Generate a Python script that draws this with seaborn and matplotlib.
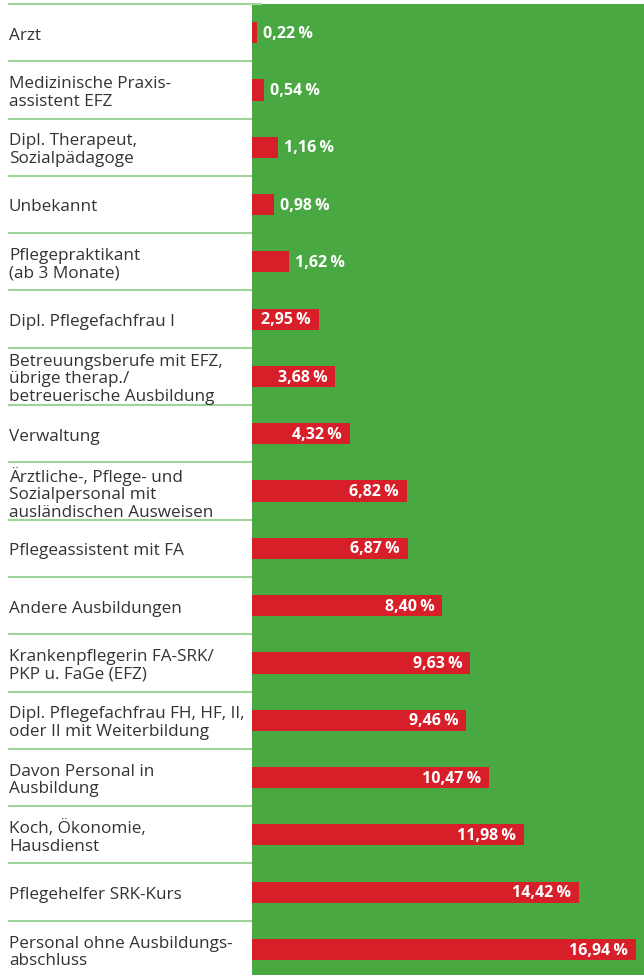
import matplotlib
matplotlib.use("Agg")
import matplotlib.pyplot as plt
import seaborn as sns
import pandas as pd

categories = [
    "Arzt",
    "Medizinische Praxis-\nassistent EFZ",
    "Dipl. Therapeut,\nSozialpädagoge",
    "Unbekannt",
    "Pflegepraktikant\n(ab 3 Monate)",
    "Dipl. Pflegefachfrau I",
    "Betreuungsberufe mit EFZ,\nübrige therap./\nbetreuerische Ausbildung",
    "Verwaltung",
    "Ärztliche-, Pflege- und\nSozialpersonal mit\nausländischen Ausweisen",
    "Pflegeassistent mit FA",
    "Andere Ausbildungen",
    "Krankenpflegerin FA-SRK/\nPKP u. FaGe (EFZ)",
    "Dipl. Pflegefachfrau FH, HF, II,\noder II mit Weiterbildung",
    "Davon Personal in\nAusbildung",
    "Koch, Ökonomie,\nHausdienst",
    "Pflegehelfer SRK-Kurs",
    "Personal ohne Ausbildungs-\nabschluss",
]
values = [0.22, 0.54, 1.16, 0.98, 1.62, 2.95, 3.68, 4.32, 6.82, 6.87,
          8.40, 9.63, 9.46, 10.47, 11.98, 14.42, 16.94]

GREEN = "#4aa843"
RED = "#d71f2a"
LINE = "#9dd49a"
TEXT = "#333333"

sns.set_theme(style="white")
plt.rcParams["font.family"] = ["Open Sans", "DejaVu Sans"]

W, H = 644, 975
fig = plt.figure(figsize=(W / 100, H / 100), dpi=100)
left_px, top_px = 252, 4
ax = fig.add_axes([left_px / W, 0, 1 - left_px / W, 1 - top_px / H])
ax.set_facecolor(GREEN)

df = pd.DataFrame({"cat": categories, "val": values})
sns.barplot(data=df, x="val", y="cat", color=RED, saturation=1, width=0.37, ax=ax)
for p in ax.patches:
    p.set_edgecolor("none")

row_px = 57.3
px_per_unit = 22.67
ax.set_xlim(0, (W - left_px) / px_per_unit)
ax.set_ylim((H - top_px) / row_px - 0.5, -0.5)

for s in ax.spines.values():
    s.set_visible(False)
ax.set_xticks([])
ax.set_yticks([])
ax.set_xlabel("")
ax.set_ylabel("")

# row separators in the label area
x_lab = (8 - left_px) / px_per_unit
seps = [i - 0.5 for i in range(len(categories))]
ax.hlines(seps, x_lab, 0, colors=LINE, linewidth=1.5, clip_on=False)
ax.hlines([-0.5], 0, 10 / px_per_unit, colors=LINE, linewidth=1.5, clip_on=False, zorder=5)

for i, (c, v) in enumerate(zip(categories, values)):
    ax.text(x_lab + 1 / px_per_unit, i + 0.05, c, ha="left", va="center",
            fontsize=12.3, color=TEXT, linespacing=1.13, clip_on=False)
    lab = f"{v:.2f}".replace(".", ",") + "\u2009%"
    if v < 2.5:
        ax.text(v + 6 / px_per_unit, i + 0.02, lab, ha="left", va="center",
                fontsize=11.5, fontweight="bold", color="white")
    else:
        ax.text(v - 8 / px_per_unit, i + 0.02, lab, ha="right", va="center",
                fontsize=11.5, fontweight="bold", color="white")

fig.savefig("out.png", dpi=100)
